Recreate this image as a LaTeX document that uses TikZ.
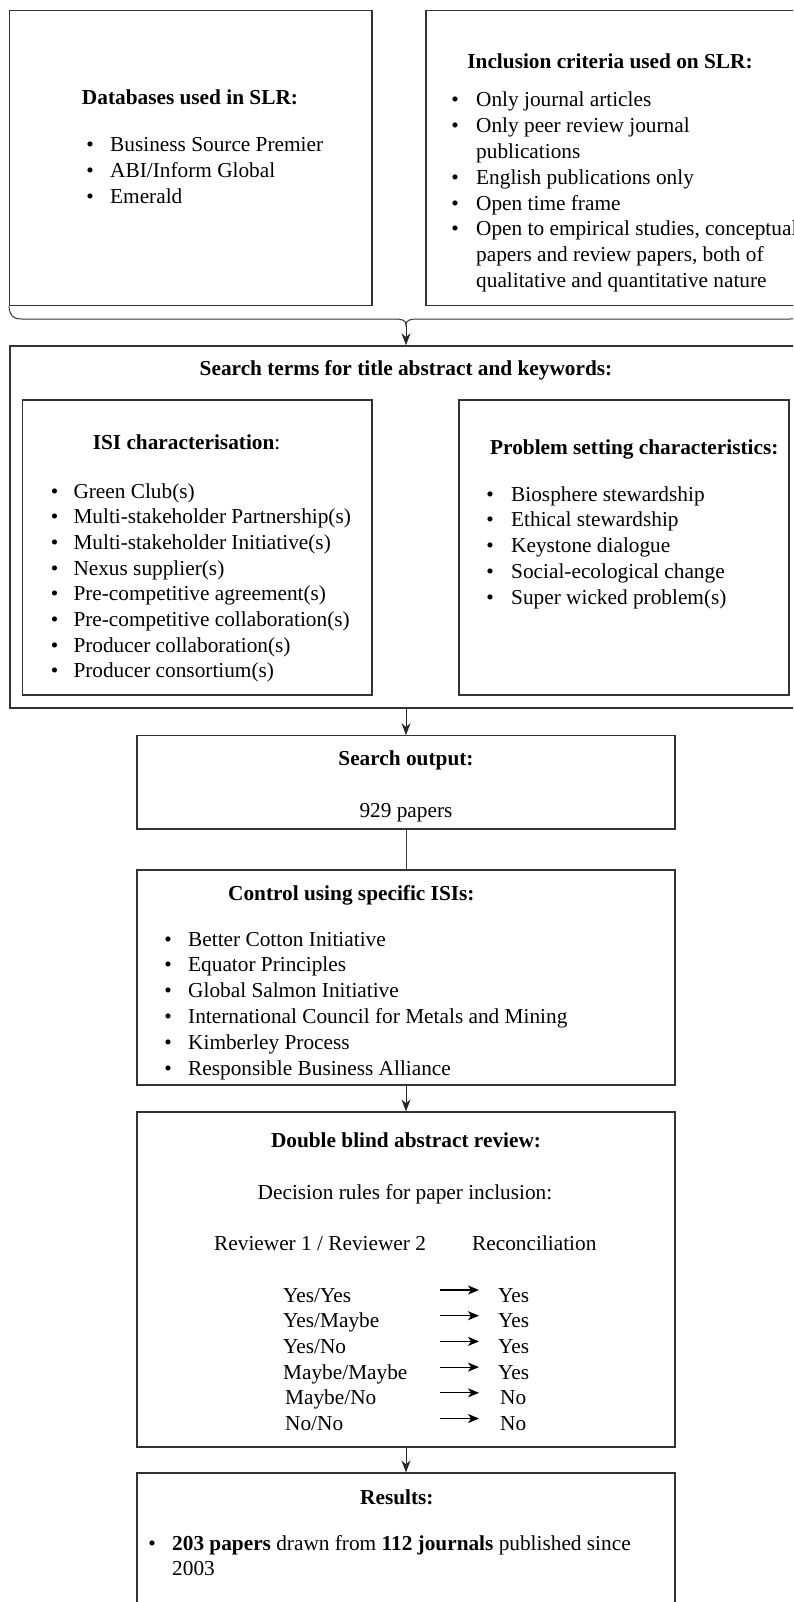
\documentclass[tikz,border=0pt]{standalone}
\usepackage{fontspec}
\setmainfont{Liberation Serif}
\usetikzlibrary{arrows.meta}
\def\bul{\textbullet}

\begin{document}
\fontsize{21.3pt}{25.7pt}\selectfont
\begin{tikzpicture}[x=1pt,y=-1pt,
  box/.style={draw=black!80,line width=1.2pt,inner sep=0pt},
  txt/.style={inner sep=0pt,anchor=base west},
  ttl/.style={inner sep=0pt,anchor=base,font=\bfseries},
  dot/.style={inner sep=0pt,anchor=base},
  arr/.style={draw=black!85,line width=1pt,-{Stealth[length=12pt,width=9pt]}},
  dec/.style={line width=1.2pt,-{Stealth[length=11pt,width=9pt,inset=3pt]}}]
\path[use as bounding box] (0,0) rectangle (793,1602);
\clip (0,0) rectangle (793,1602);

\node[box,minimum width=362.5pt,minimum height=295pt] (db) at (190.75,158.2) {};
\node[box,minimum width=376pt,minimum height=295pt] (inc) at (614,158.2) {};
\node[box,line width=1.6pt,minimum width=792pt,minimum height=362pt] (srch) at (406,527) {};
\node[box,minimum width=349.3pt,minimum height=295pt] (isi) at (197.35,547.5) {};
\node[box,minimum width=330pt,minimum height=295pt] (prob) at (624,547.5) {};
\node[box,minimum width=538pt,minimum height=93.3pt] (out) at (406,782.35) {};
\node[box,minimum width=538pt,minimum height=215pt] (ctrl) at (406,977.5) {};
\node[box,minimum width=538pt,minimum height=335pt] (dbl) at (406,1279.5) {};
\node[box,minimum width=538pt,minimum height=177pt] (res) at (406,1561.5) {};

% brace under the two top boxes
\coordinate (brc) at (406,325);
\draw[line width=1pt,black!80] (db.south west) .. controls (10,316) and (13,319) .. (22,319) -- (394,319)
  .. controls (402,319) and (406,320) .. (brc) .. controls (406,320) and (410,319) .. (418,319) -- (790,319)
  .. controls (799,319) and (802,316) .. (inc.south east);

\draw[arr] (brc) -- (srch.north);
\draw[arr] (srch.south) -- (out.north);
\draw[line width=1pt,black!75] (out.south) -- (ctrl.north);
\draw[arr] (ctrl.south) -- (dbl.north);
\draw[arr] (dbl.south) -- (res.north);

\node[ttl] (dbt) at (190,105) {Databases used in SLR:};
\node[dot] (db1b) at (90,152) {\bul};
\node[txt] (db1) at (110,152) {Business Source Premier};
\node[dot] (db2b) at (90,177.8) {\bul};
\node[txt] (db2) at (110,177.8) {ABI/Inform Global};
\node[dot] (db3b) at (90,203.6) {\bul};
\node[txt] (db3) at (110,203.6) {Emerald};

\node[ttl] (inct) at (610,69) {Inclusion criteria used on SLR:};
\node[dot] (inc1b) at (455,107) {\bul};
\node[txt] (inc1) at (476,107) {Only journal articles};
\node[dot] (inc2b) at (455,132.8) {\bul};
\node[txt] (inc2) at (476,132.8) {Only peer review journal};
\node[txt] (inc2x) at (476,158.6) {publications};
\node[dot] (inc3b) at (455,184.4) {\bul};
\node[txt] (inc3) at (476,184.4) {English publications only};
\node[dot] (inc4b) at (455,210.2) {\bul};
\node[txt] (inc4) at (476,210.2) {Open time frame};
\node[dot] (inc5b) at (455,236) {\bul};
\node[txt] (inc5) at (476,236) {Open to empirical studies, conceptual};
\node[txt] (inc5x) at (476,261.8) {papers and review papers, both of};
\node[txt] (inc5y) at (476,287.6) {qualitative and quantitative nature};

\node[ttl] (srcht) at (406,375) {Search terms for title abstract and keywords:};

\node[txt] (isit) at (92.6,449) {\textbf{ISI characterisation}:};
\node[dot] (isi1b) at (54.6,498) {\bul};
\node[txt] (isi1) at (73.3,498) {Green Club(s)};
\node[dot] (isi2b) at (54.6,523.7) {\bul};
\node[txt] (isi2) at (73.3,523.7) {Multi-stakeholder Partnership(s)};
\node[dot] (isi3b) at (54.6,549.4) {\bul};
\node[txt] (isi3) at (73.3,549.4) {Multi-stakeholder Initiative(s)};
\node[dot] (isi4b) at (54.6,575.1) {\bul};
\node[txt] (isi4) at (73.3,575.1) {Nexus supplier(s)};
\node[dot] (isi5b) at (54.6,600.8) {\bul};
\node[txt] (isi5) at (73.3,600.8) {Pre-competitive agreement(s)};
\node[dot] (isi6b) at (54.6,626.5) {\bul};
\node[txt] (isi6) at (73.3,626.5) {Pre-competitive collaboration(s)};
\node[dot] (isi7b) at (54.6,652.2) {\bul};
\node[txt] (isi7) at (73.3,652.2) {Producer collaboration(s)};
\node[dot] (isi8b) at (54.6,677.9) {\bul};
\node[txt] (isi8) at (73.3,677.9) {Producer consortium(s)};

\node[txt,font=\bfseries] (probt) at (490,454) {Problem setting characteristics:};
\node[dot] (prob1b) at (490,501) {\bul};
\node[txt] (prob1) at (511,501) {Biosphere stewardship};
\node[dot] (prob2b) at (490,526.8) {\bul};
\node[txt] (prob2) at (511,526.8) {Ethical stewardship};
\node[dot] (prob3b) at (490,552.6) {\bul};
\node[txt] (prob3) at (511,552.6) {Keystone dialogue};
\node[dot] (prob4b) at (490,578.4) {\bul};
\node[txt] (prob4) at (511,578.4) {Social-ecological change};
\node[dot] (prob5b) at (490,604.2) {\bul};
\node[txt] (prob5) at (511,604.2) {Super wicked problem(s)};

\node[ttl] (outt) at (406,765) {Search output:};
\node[dot] (outn) at (406,817) {929 papers};

\node[txt,font=\bfseries] (ctrlt) at (228,900) {Control using specific ISIs:};
\node[dot] (ctrl1b) at (168,946) {\bul};
\node[txt] (ctrl1) at (188,946) {Better Cotton Initiative};
\node[dot] (ctrl2b) at (168,971.8) {\bul};
\node[txt] (ctrl2) at (188,971.8) {Equator Principles};
\node[dot] (ctrl3b) at (168,997.6) {\bul};
\node[txt] (ctrl3) at (188,997.6) {Global Salmon Initiative};
\node[dot] (ctrl4b) at (168,1023.4) {\bul};
\node[txt] (ctrl4) at (188,1023.4) {International Council for Metals and Mining};
\node[dot] (ctrl5b) at (168,1049.2) {\bul};
\node[txt] (ctrl5) at (188,1049.2) {Kimberley Process};
\node[dot] (ctrl6b) at (168,1075) {\bul};
\node[txt] (ctrl6) at (188,1075) {Responsible Business Alliance};

\node[ttl] (dblt) at (406,1147) {Double blind abstract review:};
\node[dot] (rules) at (405,1199) {Decision rules for paper inclusion:};
\node[txt] (rev) at (214,1250) {Reviewer 1 / Reviewer 2};
\node[txt] (rec) at (472,1250) {Reconciliation};

\node[txt] (r1) at (283,1302) {Yes/Yes};
\node[txt] (c1) at (498,1302) {Yes};
\node[txt] (r2) at (283,1327.7) {Yes/Maybe};
\node[txt] (c2) at (498,1327.7) {Yes};
\node[txt] (r3) at (283,1353.4) {Yes/No};
\node[txt] (c3) at (498,1353.4) {Yes};
\node[txt] (r4) at (283,1379.1) {Maybe/Maybe};
\node[txt] (c4) at (498,1379.1) {Yes};
\node[txt] (r5) at (285,1404.8) {Maybe/No};
\node[txt] (c5) at (500,1404.8) {No};
\node[txt] (r6) at (285,1430.5) {No/No};
\node[txt] (c6) at (500,1430.5) {No};
\draw[dec] ([xshift=-58pt,yshift=12pt]c1.base west) -- ([xshift=-19pt,yshift=12pt]c1.base west);
\draw[dec] ([xshift=-58pt,yshift=12pt]c2.base west) -- ([xshift=-19pt,yshift=12pt]c2.base west);
\draw[dec] ([xshift=-58pt,yshift=12pt]c3.base west) -- ([xshift=-19pt,yshift=12pt]c3.base west);
\draw[dec] ([xshift=-58pt,yshift=12pt]c4.base west) -- ([xshift=-19pt,yshift=12pt]c4.base west);
\draw[dec] ([xshift=-60pt,yshift=12pt]c5.base west) -- ([xshift=-21pt,yshift=12pt]c5.base west);
\draw[dec] ([xshift=-60pt,yshift=12pt]c6.base west) -- ([xshift=-21pt,yshift=12pt]c6.base west);

\node[txt,font=\bfseries] (rest) at (360,1504) {Results:};
\node[dot] (res1b) at (152,1550) {\bul};
\node[txt] (res1) at (172,1550) {\textbf{203 papers} drawn from \textbf{112 journals} published since};
\node[txt] (res1x) at (172,1575.7) {2003};
\end{tikzpicture}
\end{document}
